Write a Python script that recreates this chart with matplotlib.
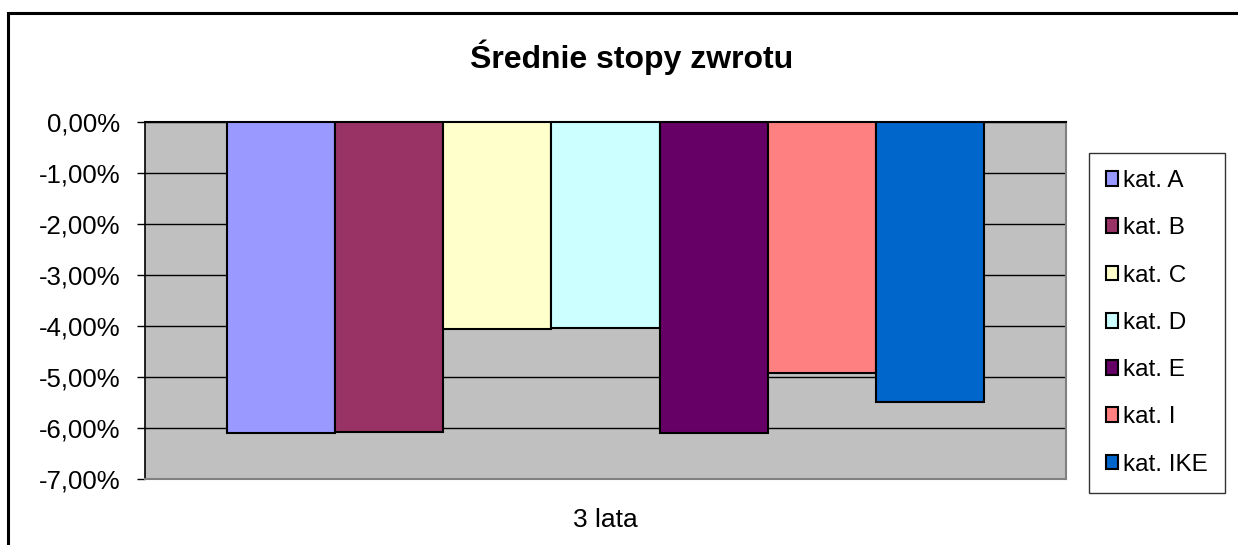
import numpy as np
import matplotlib.pyplot as plt
from matplotlib.patches import Rectangle
from matplotlib.ticker import FuncFormatter

plt.rcParams['font.family'] = ['Liberation Sans', 'DejaVu Sans']

# data
series = ['kat. A', 'kat. B', 'kat. C', 'kat. D', 'kat. E', 'kat. I', 'kat. IKE']
values = [-6.10, -6.07, -4.06, -4.04, -6.10, -4.92, -5.49]
colors = ['#9999FF', '#993366', '#FFFFCC', '#CCFFFF', '#660066', '#FF8080', '#0066CC']
category = '3 lata'
yticks = [0, -1, -2, -3, -4, -5, -6, -7]

fig = plt.figure(figsize=(12.38, 5.45), dpi=100)
ax = fig.add_axes([145/1238, 1-479/545, (1066-145)/1238, (479-122)/545])

ax.set_facecolor('#C0C0C0')
ax.set_xlim(-0.5, 0.5)
ax.set_ylim(-7, 0)

w = 108.2/921
for i, (s, v, c) in enumerate(zip(series, values, colors)):
    ax.bar((i-3)*w, v, width=w, color=c, edgecolor='black', linewidth=1.5, label=s, zorder=3)

ax.set_yticks(yticks)
ax.yaxis.set_major_formatter(FuncFormatter(lambda y, p: ('%.2f%%' % y).replace('.', ',')))
ax.grid(axis='y', color='black', linewidth=1, zorder=1)
ax.tick_params(axis='y', direction='out', length=6, width=1, pad=12, labelsize=18.5, colors='black')
ax.set_xticks([0])
ax.set_xticklabels([category])
ax.tick_params(axis='x', length=0, pad=21, labelsize=19)

ax.spines['left'].set_color('black')
ax.spines['left'].set_linewidth(1.2)
for sp in ['bottom', 'right', 'top']:
    ax.spines[sp].set_color('#808080')
    ax.spines[sp].set_linewidth(1.5)
ax.spines['top'].set_color('black')

fig.text(632/1238, 1-57/545, 'Średnie stopy zwrotu', ha='center', va='center',
         fontsize=23, fontweight='bold')

leg = ax.legend(loc='upper left', bbox_to_anchor=(1089/1238, 1-153/545), bbox_transform=fig.transFigure,
                fontsize=17.5, frameon=True, fancybox=False, edgecolor='black', borderpad=0.7,
                labelspacing=1.04, handlelength=0.5, handleheight=0.55, handletextpad=0.2,
                borderaxespad=0)
leg.get_frame().set_linewidth(1)

# outer chart border
fig.patches.append(Rectangle((8/1238, -0.1), 1.2, 1-13/545+0.1, transform=fig.transFigure,
                             fill=False, edgecolor='black', linewidth=2.2))

fig.savefig('out.png', dpi=100)
